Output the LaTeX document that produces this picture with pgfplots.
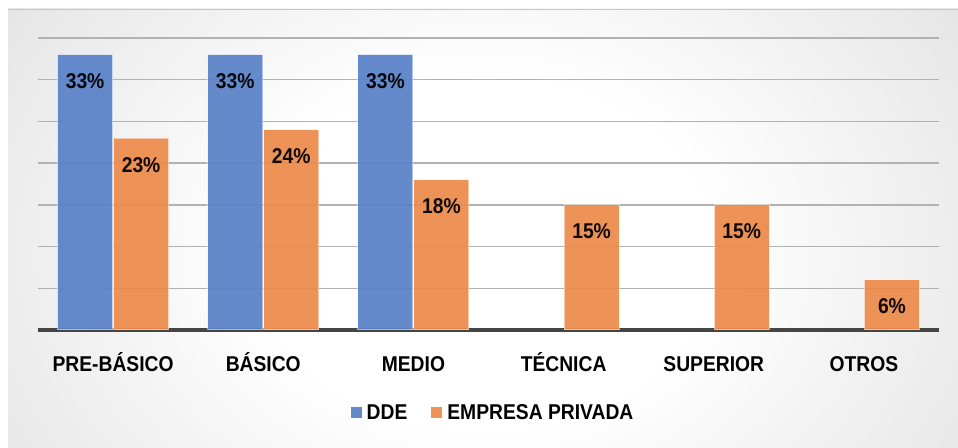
\documentclass[border=0pt]{standalone}
\usepackage{pgfplots}
\pgfplotsset{compat=1.18}
\usepackage{fontspec}
\setmainfont{Liberation Sans}[FakeStretch=0.9]
\definecolor{ddeblue}{HTML}{5A82C8}
\definecolor{eporange}{HTML}{EC8B4B}
\newcommand{\lbl}{\bfseries\fontsize{21.5}{23}\selectfont}
\pgfdeclareradialshading{bgshade}{\pgfpoint{0bp}{0bp}}{color(0bp)=(white); color(12bp)=(white); color(50bp)=(black!21); color(75bp)=(black!27)}
\begin{document}
\begin{tikzpicture}[x=1bp,y=1bp]
\fill[white] (0,0) rectangle (958,448);
\begin{scope}
\clip (8,0) rectangle (958,439);
\shade[shading=bgshade] (8,-170) rectangle (958,560);
\end{scope}
\draw[black!22, line width=1.5bp] (8,438.5) -- (958,438.5);
\begin{axis}[
  at={(38bp,118bp)}, anchor=south west,
  scale only axis, width=901bp, height=292bp,
  xmin=-0.5, xmax=5.5, ymin=0, ymax=35,
  ybar=1bp, bar width=55bp,
  axis x line=bottom, axis y line=left,
  x axis line style={-, line width=4bp, color=black!73},
  y axis line style={draw=none},
  xtick={0,1,2,3,4,5},
  xticklabels={PRE-BÁSICO,BÁSICO,MEDIO,TÉCNICA,SUPERIOR,OTROS},
  xticklabel style={font=\lbl, anchor=base, yshift=-41.5bp, inner sep=0pt},
  major tick length=0pt,
  ytick={5,10,15,20,25,30,35},
  yticklabels={},
  ymajorgrids,
  grid style={black!30, line width=1.5bp},
  nodes near coords={\pgfmathprintnumber[assume math mode=true]{\pgfplotspointmeta}\%},
  every node near coord/.append style={font=\lbl, anchor=base, yshift=-34bp, text=black},
  legend columns=2,
  legend style={at={(0.505,-0.284)}, anchor=center, draw=none, fill=none,
    font=\lbl, /tikz/every even column/.append style={column sep=22bp},
    /tikz/every odd column/.append style={column sep=3bp}},
  legend image code/.code={\fill[#1, draw=none] (0bp,-5.5bp) rectangle (11bp,5.5bp);},
  clip=false,
]
\addplot[fill=ddeblue, fill opacity=0.93, draw=white, draw opacity=0.5, line width=1bp]
  coordinates {(0,33) (1,33) (2,33)};
\addplot[fill=eporange, fill opacity=0.93, draw=white, draw opacity=0.5, line width=1bp]
  coordinates {(0,23) (1,24) (2,18) (3,15) (4,15) (5,6)};
\legend{DDE, EMPRESA PRIVADA}
\end{axis}
\pgfresetboundingbox
\useasboundingbox (0,0) rectangle (958,448);
\end{tikzpicture}
\end{document}
